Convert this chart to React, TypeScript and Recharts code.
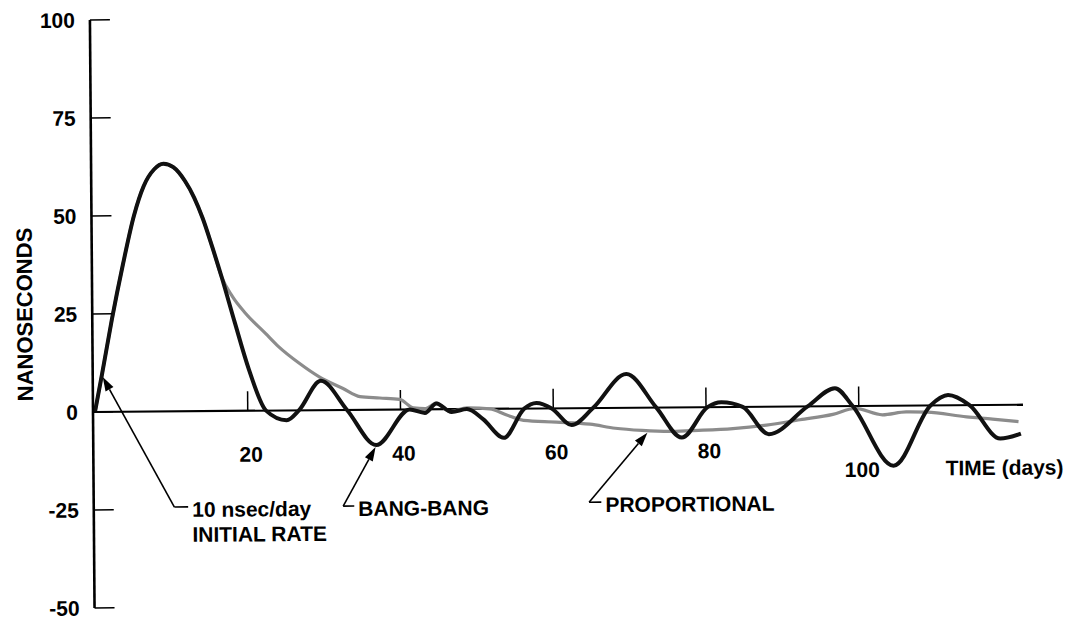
import React from 'react';
import { LineChart, Line, XAxis, YAxis, ReferenceLine, ReferenceDot, Label } from 'recharts';

const FONT = '"Liberation Sans", Arial, Helvetica, sans-serif';
const textStyle = { fontFamily: FONT, fontSize: 21, fontWeight: 700, fill: '#000' };

const yTicks = [-50, -25, 0, 25, 50, 75, 100];
const xTicks = [20, 40, 60, 80, 100];

// [day, nanoseconds]
const bangBang = [
  [0, 0], [1, 10], [2.3, 23.5], [3.8, 37.5], [5.3, 50], [6.6, 57.5], [8, 61.8], [9.2, 63.2],
  [10.5, 62.3], [12, 58.8], [13.2, 54.5], [14.3, 49.2], [15.5, 42], [16.7, 34.3], [18.4, 22.5],
  [20.2, 10.5], [22.4, 0], [25.1, -2.5], [26.7, 0], [29.6, 7.5], [33, 0], [36.8, -9], [41.2, 0],
  [43.2, -0.9], [44.7, 1.5], [46.7, -0.7], [48.7, 0], [50.8, -2.6], [53.5, -7.4], [56.2, 0],
  [57.8, 1.4], [59.8, 0], [62.4, -4.3], [65.2, 0], [69.6, 8.6], [73.5, 0], [76.8, -7.7], [80.2, 0],
  [82, 1.2], [84.8, 0], [88.2, -7], [93.3, 0], [96.9, 4.6], [99.2, 0], [104.5, -15.3], [109.4, 0],
  [111.7, 2.6], [114.5, 0], [118.5, -8.6], [121.2, -7.4],
];

const proportional = [
  [0, 0], [1, 10], [2.3, 23.5], [3.8, 37.5], [5.3, 50], [6.6, 57.5], [8, 61.8], [9.2, 63.2],
  [10.5, 62.3], [12, 58.8], [13.2, 54.5], [14.3, 49.2], [15.5, 42], [16.7, 34.3], [18.1, 29.2],
  [19.8, 24.9], [22.4, 19.7], [24.1, 16.3], [26.8, 12], [29.4, 8.5], [32.5, 5.5], [34.7, 3.4],
  [37.3, 3], [39.9, 2.6], [41.7, 0.4], [43.3, 0.2], [44.7, 1.6], [46.5, -0.6], [48.7, 0.3],
  [51.7, 0], [53.9, -1.6], [56.1, -3], [60.4, -3.5], [64.8, -4.1], [68.1, -5.2], [71.6, -5.8],
  [75.5, -6.1], [79, -5.9], [83.5, -5.5], [87.9, -4.7], [92.3, -3.4], [96.6, -2.1], [99.5, -0.6],
  [103.1, -2.3], [106.2, -1.6], [108.9, -1.7], [114.1, -3], [117.5, -3.6], [120.9, -4.3],
];

// callouts: arrow tip on the curve, elbow of the leader, end of the short leg
const notes = [
  { lines: ['10 nsec/day', 'INITIAL RATE'], tip: [1.05, 8.9], corner: [10.3, -24.4], legEnd: 12.1 },
  { lines: ['BANG-BANG'], tip: [36.7, -9.5], corner: [32.4, -24.5], legEnd: 33.85 },
  { lines: ['PROPORTIONAL'], tip: [72.3, -6.4], corner: [64.6, -24], legEnd: 66.2 },
];

const toPoints = (rows: number[][]) => rows.map(([day, ns]) => ({ day, ns }));

const YTick = (props: any) => {
  const { x, y, payload } = props;
  return (
    <g>
      <line x1={x} y1={y} x2={x + 20} y2={y} stroke="#000" strokeWidth={1.5} />
      <text x={x - 15} y={y + 7.5} textAnchor="end" {...textStyle}>{payload.value}</text>
    </g>
  );
};

const NanoLabel = (props: any) => {
  const vb = props.viewBox || {};
  const x = (vb.x || 0) + 33;
  const y = (vb.y || 0) + (vb.height || 0) / 2;
  return (
    <text x={x} y={y} transform={`rotate(-90, ${x}, ${y})`} textAnchor="middle" {...textStyle} fontSize={22}>
      NANOSECONDS
    </text>
  );
};

const XTickLabel = ({ viewBox, tickValue }: any) => {
  if (!viewBox) return null;
  const zeroY = viewBox.y + viewBox.height;
  return (
    <text x={viewBox.x + 3} y={zeroY + (tickValue === 100 ? 71 : 51)} textAnchor="middle" {...textStyle}>
      {tickValue}
    </text>
  );
};

const ArrowShape = (p: any) => {
  const { x1, y1, x2, y2 } = p;
  const ang = Math.atan2(y2 - y1, x2 - x1);
  const len = 14;
  const half = 4.5;
  const bx = x2 - len * Math.cos(ang);
  const by = y2 - len * Math.sin(ang);
  const px = -Math.sin(ang) * half;
  const py = Math.cos(ang) * half;
  return (
    <g>
      <line x1={x1} y1={y1} x2={bx} y2={by} stroke="#000" strokeWidth={1.6} />
      <polygon points={`${x2},${y2} ${bx + px},${by + py} ${bx - px},${by - py}`} fill="#000" />
    </g>
  );
};

const NoteText = ({ viewBox, lines }: any) => {
  if (!viewBox) return null;
  const x = viewBox.x + viewBox.width + 4;
  return (
    <g>
      {lines.map((s: string, i: number) => (
        <text key={s} x={x} y={viewBox.y + 10 + i * 25} {...textStyle}>{s}</text>
      ))}
    </g>
  );
};

const TimeLabel = ({ viewBox }: any) => {
  if (!viewBox) return null;
  return (
    <text x={viewBox.x - 74} y={viewBox.y + 70} {...textStyle}>TIME (days)</text>
  );
};

const App = () => (
  <div style={{ position: 'absolute', left: 0, top: 0, width: 1072, height: 624, overflow: 'hidden', background: '#fff' }}>
    <div style={{ width: 1072, height: 624, transform: 'rotate(-0.45deg)', transformOrigin: '93px 412px' }}>
      <LineChart width={1072} height={624} margin={{ top: 20, right: 49, bottom: 16, left: 0 }}>
        <XAxis type="number" dataKey="day" domain={[-0.26, 121.5]} hide allowDataOverflow />
        <YAxis
          type="number"
          domain={[-50, 100]}
          ticks={yTicks}
          interval={0}
          width={93}
          tick={<YTick />}
          tickLine={false}
          tickSize={0}
          tickMargin={0}
          axisLine={{ stroke: '#000', strokeWidth: 2.6 }}
          label={<Label content={NanoLabel} />}
        />
        <ReferenceLine y={0} stroke="#000" strokeWidth={2.2} />
        {xTicks.map((t) => (
          <ReferenceLine
            key={`tick-${t}`}
            segment={[{ x: t, y: 0 }, { x: t, y: 5 }]}
            stroke="#000"
            strokeWidth={1.5}
            label={(p: any) => <XTickLabel {...p} tickValue={t} />}
          />
        ))}
        <Line
          data={toPoints(proportional)}
          dataKey="ns"
          type="monotone"
          stroke="#8c8c8c"
          strokeWidth={3.2}
          dot={false}
          activeDot={false}
          isAnimationActive={false}
        />
        <Line
          data={toPoints(bangBang)}
          dataKey="ns"
          type="monotone"
          stroke="#111"
          strokeWidth={4}
          dot={false}
          activeDot={false}
          isAnimationActive={false}
        />
        {notes.map((n) => (
          <ReferenceLine
            key={`arrow-${n.lines[0]}`}
            segment={[{ x: n.corner[0], y: n.corner[1] }, { x: n.tip[0], y: n.tip[1] }]}
            shape={ArrowShape}
          />
        ))}
        {notes.map((n) => (
          <ReferenceLine
            key={`leg-${n.lines[0]}`}
            segment={[{ x: n.corner[0], y: n.corner[1] }, { x: n.legEnd, y: n.corner[1] }]}
            stroke="#000"
            strokeWidth={1.6}
            label={(p: any) => <NoteText {...p} lines={n.lines} />}
          />
        ))}
        <ReferenceDot x={121} y={0} r={0} fill="none" stroke="none" label={(p: any) => <TimeLabel {...p} />} />
      </LineChart>
    </div>
  </div>
);

export default App;
